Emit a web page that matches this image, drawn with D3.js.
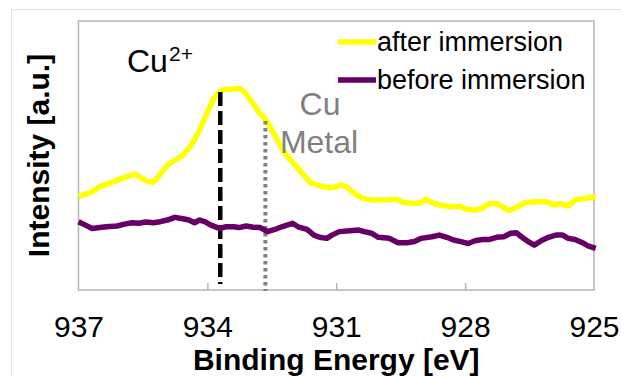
<!DOCTYPE html>
<html>
<head>
<meta charset="utf-8">
<script src="https://cdn.jsdelivr.net/npm/d3@7/dist/d3.min.js"></script>
<style>
  html, body { margin: 0; padding: 0; background: #fff; }
  svg { display: block; font-family: "Liberation Sans", Arial, sans-serif; }
</style>
</head>
<body>
<svg id="chart" width="621" height="376"></svg>
<script>
// XPS Cu 2p3/2 region: binding energy (eV) vs intensity (arbitrary units)
const afterEnergy = [937.00, 936.68, 936.51, 936.18, 935.93, 935.68, 935.47, 935.28, 935.14, 934.93,
  934.72, 934.56, 934.35, 934.18, 934.01, 933.85, 933.72, 933.60, 933.43, 933.26,
  933.14, 932.97, 932.81, 932.64, 932.52, 932.39, 932.22, 932.06, 931.89, 931.72,
  931.60, 931.43, 931.27, 931.10, 930.89, 930.77, 930.60, 930.39, 930.18, 929.93,
  929.60, 929.43, 929.18, 929.02, 928.93, 928.77, 928.60, 928.35, 928.10, 927.97,
  927.77, 927.60, 927.43, 927.27, 927.14, 926.98, 926.77, 926.60, 926.35, 926.10,
  925.93, 925.77, 925.60, 925.44, 925.19, 924.96];
const afterIntensity = [34.7, 36.5, 38.4, 40.3, 41.9, 43.1, 40.9, 39.9, 42.1, 46.5,
  48.6, 50.2, 54.5, 59.5, 65.7, 71.3, 73.7, 74.6, 74.6, 75.0,
  73.7, 70.0, 66.3, 63.2, 60.1, 56.4, 51.4, 48.3, 45.2, 42.1,
  39.9, 39.0, 38.2, 38.0, 39.0, 38.4, 36.2, 34.1, 33.5, 33.5,
  33.7, 32.5, 32.2, 32.5, 33.7, 32.5, 31.6, 31.0, 31.0, 30.0,
  29.7, 30.4, 32.2, 32.2, 31.0, 29.5, 31.0, 32.5, 32.8, 32.8,
  31.6, 32.2, 31.2, 33.5, 34.1, 34.7];

const beforeEnergy = [937.00, 936.85, 936.68, 936.51, 936.35, 936.10, 935.93, 935.76, 935.60, 935.43,
  935.26, 935.10, 934.93, 934.76, 934.60, 934.43, 934.30, 934.18, 934.06, 933.93,
  933.72, 933.56, 933.39, 933.26, 933.10, 932.93, 932.77, 932.60, 932.43, 932.27,
  932.02, 931.89, 931.68, 931.52, 931.39, 931.22, 931.10, 930.93, 930.68, 930.47,
  930.35, 930.18, 930.02, 929.77, 929.56, 929.35, 929.18, 929.02, 928.77, 928.60,
  928.43, 928.27, 928.10, 927.93, 927.77, 927.60, 927.43, 927.27, 927.10, 926.94,
  926.81, 926.69, 926.56, 926.39, 926.23, 926.06, 925.89, 925.73, 925.60, 925.44,
  925.27, 925.14, 924.96];
const beforeIntensity = [25.4, 24.2, 22.9, 23.2, 23.5, 23.8, 24.5, 25.0, 24.8, 25.3,
  25.0, 25.4, 26.0, 27.0, 26.6, 26.0, 25.0, 26.0, 25.4, 24.2,
  22.9, 23.5, 23.5, 23.2, 23.8, 23.3, 23.2, 21.7, 22.5, 23.5,
  24.8, 23.5, 22.5, 20.4, 19.6, 19.2, 20.4, 21.7, 22.0, 22.3,
  21.7, 21.1, 19.6, 19.2, 17.6, 17.6, 18.0, 19.2, 19.8, 20.4,
  19.6, 18.6, 18.0, 17.3, 18.3, 18.8, 18.8, 19.6, 19.8, 21.1,
  21.3, 19.8, 18.3, 16.7, 18.3, 19.6, 20.4, 20.4, 19.2, 18.8,
  17.6, 16.4, 15.5];

const seriesNames = ["after immersion", "before immersion"];
const seriesColors = ["#ffff00", "#660066"];
const xTicks = [937, 934, 931, 928, 925];

// Reference positions: Cu2+ peak and Cu metal
const refEnergy = [933.70, 932.65];
const refTop = [73.6, 62.8];

const svg = d3.select("#chart");
const plot = { left: 78.5, right: 594, top: 21, bottom: 290 };

// faint outer frame of the figure
svg.append("rect")
  .attr("x", 11.5).attr("y", 9.5).attr("width", 700).attr("height", 500)
  .attr("fill", "none").attr("stroke", "#e3e3e3").attr("stroke-width", 1);

const x = d3.scaleLinear().domain([937, 925]).range([plot.left, plot.right]);
const y = d3.scaleLinear().domain([0, 100]).range([plot.bottom, plot.top]);

// plot area border
svg.append("rect")
  .attr("x", plot.left).attr("y", plot.top)
  .attr("width", plot.right - plot.left).attr("height", plot.bottom - plot.top)
  .attr("fill", "none").attr("stroke", "#b5b5b5").attr("stroke-width", 1.5);

// x axis: inward tick marks and labels
const xAxis = d3.axisBottom(x).tickValues(xTicks).tickSizeInner(-7).tickSizeOuter(0).tickPadding(0);
const gx = svg.append("g").attr("transform", `translate(0,${plot.bottom})`).call(xAxis);
gx.select(".domain").remove();
gx.selectAll(".tick line").attr("stroke", "#b5b5b5").attr("stroke-width", 1.5)
  .filter(d => d === 937 || d === 925).remove();
gx.selectAll(".tick text")
  .attr("y", 47).attr("dy", null)
  .attr("font-size", 30).attr("fill", "#000")
  .attr("font-family", "Liberation Sans, Arial, sans-serif");

// axis titles
svg.append("text")
  .attr("x", (plot.left + plot.right) / 2).attr("y", 370)
  .attr("text-anchor", "middle").attr("font-size", 30).attr("font-weight", "bold")
  .text("Binding Energy [eV]");
svg.append("text")
  .attr("transform", `translate(49,${(plot.top + plot.bottom) / 2}) rotate(-90)`)
  .attr("text-anchor", "middle").attr("font-size", 30).attr("font-weight", "bold")
  .text("Intensity [a.u.]");

// spectra
const line = d3.line().x(d => x(d[0])).y(d => y(d[1]));
const afterData = afterEnergy.map((e, i) => [e, afterIntensity[i]]);
const beforeData = beforeEnergy.map((e, i) => [e, beforeIntensity[i]]);

svg.append("path").datum(afterData)
  .attr("d", line).attr("fill", "none")
  .attr("stroke", seriesColors[0]).attr("stroke-width", 5.5)
  .attr("stroke-linejoin", "round");

// reference lines
svg.append("line")
  .attr("x1", x(refEnergy[0])).attr("x2", x(refEnergy[0]))
  .attr("y1", y(refTop[0])).attr("y2", plot.bottom - 6)
  .attr("stroke", "#000").attr("stroke-width", 4.5).attr("stroke-dasharray", "14,5");
svg.append("line")
  .attr("x1", x(refEnergy[1])).attr("x2", x(refEnergy[1]))
  .attr("y1", y(refTop[1])).attr("y2", plot.bottom + 1)
  .attr("stroke", "#808080").attr("stroke-width", 4).attr("stroke-dasharray", "3.5,3.5");

svg.append("path").datum(beforeData)
  .attr("d", line).attr("fill", "none")
  .attr("stroke", seriesColors[1]).attr("stroke-width", 5.5)
  .attr("stroke-linejoin", "round");

// annotations
svg.append("text").attr("x", 127).attr("y", 72).attr("font-size", 32).attr("fill", "#000").text("Cu");
svg.append("text").attr("x", 169).attr("y", 61).attr("font-size", 21).attr("fill", "#000").text("2+");
svg.append("text").attr("x", 320).attr("y", 115).attr("text-anchor", "middle")
  .attr("font-size", 32).attr("fill", "#808080").text("Cu");
svg.append("text").attr("x", 319).attr("y", 153).attr("text-anchor", "middle")
  .attr("font-size", 32).attr("fill", "#808080").text("Metal");

// legend
const legendY = [42, 80];
seriesNames.forEach((name, i) => {
  svg.append("line")
    .attr("x1", 338).attr("x2", 376).attr("y1", legendY[i]).attr("y2", legendY[i])
    .attr("stroke", seriesColors[i]).attr("stroke-width", 5.5);
  svg.append("text")
    .attr("x", 377).attr("y", legendY[i] + 9)
    .attr("font-size", 27).attr("fill", "#000").text(name);
});
</script>
</body>
</html>
